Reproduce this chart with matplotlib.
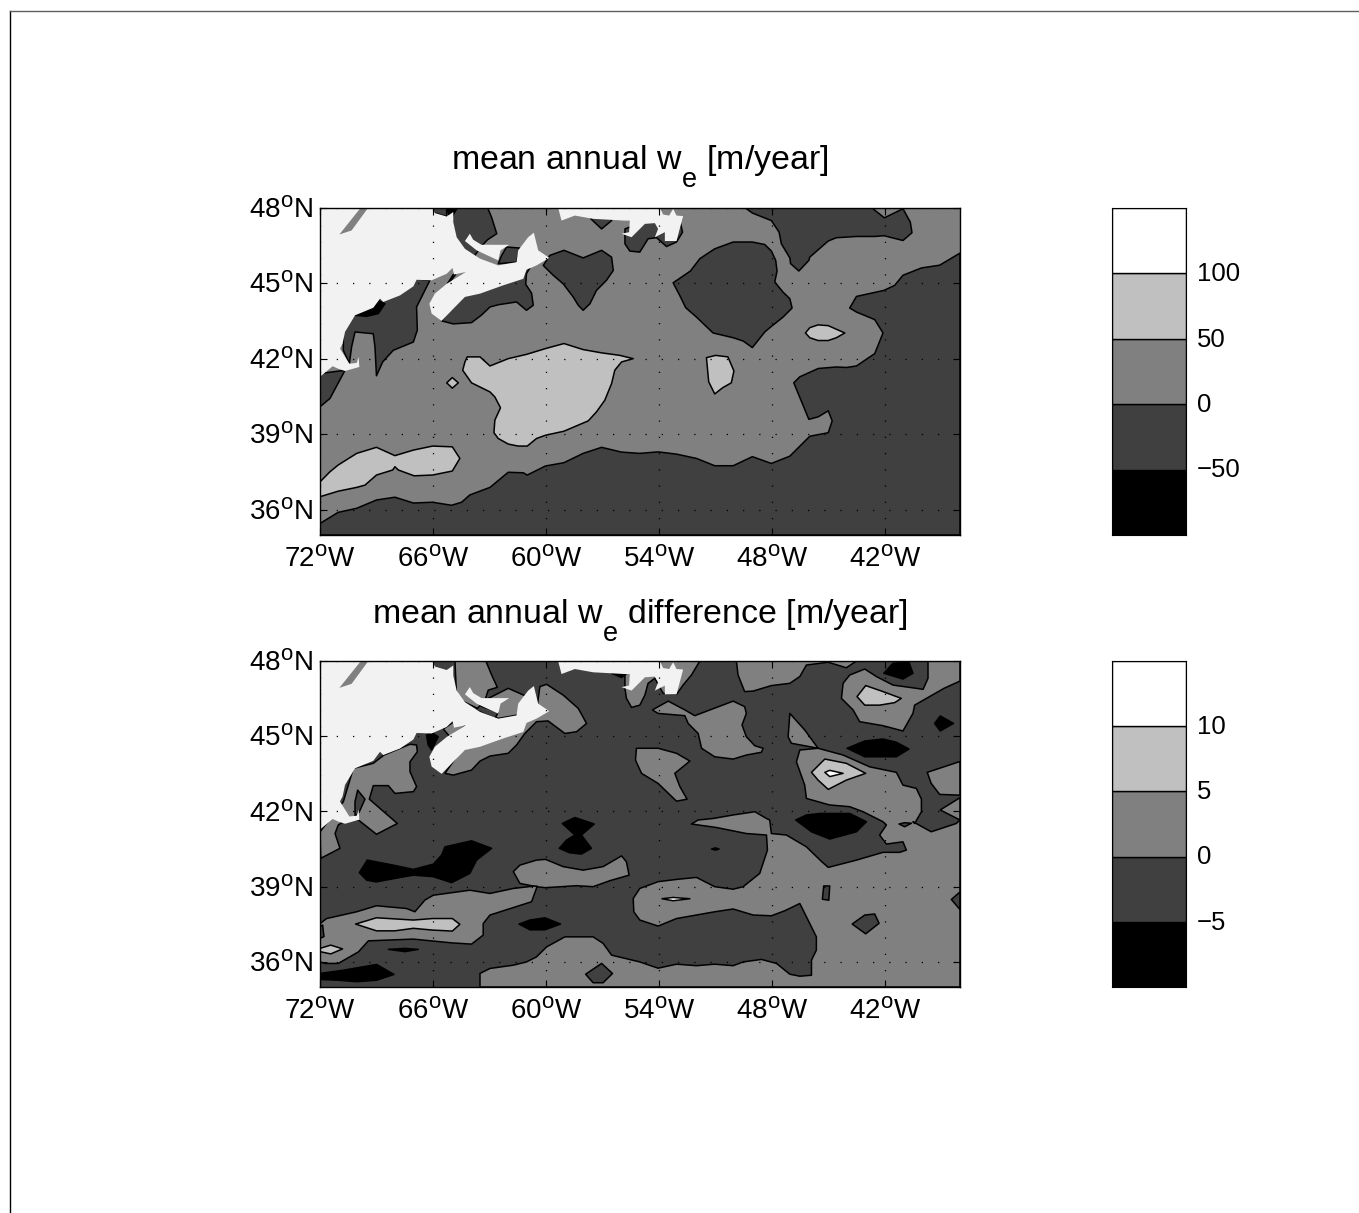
import matplotlib
matplotlib.use("Agg")
import matplotlib.pyplot as plt
from matplotlib.lines import Line2D
from matplotlib.transforms import ScaledTranslation
import matplotlib._mathtext as _mt

plt.rcParams['font.family'] = ['Liberation Sans', 'DejaVu Sans']
plt.rcParams['mathtext.fontset'] = 'custom'
plt.rcParams['mathtext.rm'] = 'Liberation Sans'
plt.rcParams['mathtext.it'] = 'Liberation Sans'
plt.rcParams['mathtext.default'] = 'rm'
_mt.SHRINK_FACTOR = 0.8
_mt.FontConstantsBase.sub1 = 1.0
_mt.FontConstantsBase.sub2 = 1.0

# ---- shared geography (lon, lat) ----
land_main = [(-72,48),(-66.02,48),(-65.9,47.78),(-65.27,47.64),(-64.92,47.82),(-64.92,47.42),(-64.74,46.82),(-64.3,46.36),
 (-63.5,45.97),(-62.53,45.7),(-61.56,45.83),(-61.47,46.3),(-60.94,46.82),(-60.64,47.0),(-60.41,46.3),(-59.82,46.0),(-60.5,45.7),
 (-61.03,45.53),(-61.2,45.17),(-62.27,44.91),(-63.5,44.58),(-64.3,44.45),(-64.92,43.98),(-65.54,43.5),(-66.07,43.79),(-66.19,44.18),
 (-65.9,44.58),(-65.27,44.97),(-64.25,45.44),(-64.88,45.34),(-64.96,45.6),(-65.27,45.37),(-66.07,45.11),(-66.87,45.13),(-67.04,44.87),
 (-67.75,44.51),(-68.64,44.25),(-68.81,44.38),(-69.17,44.02),(-70.14,43.72),(-70.67,43.06),(-70.8,42.6),(-70.94,42.4),(-70.44,41.8),
 (-70.05,41.83),(-69.95,42.07),(-69.91,41.67),(-70.67,41.51),(-71.03,41.6),(-71.33,41.7),(-72,41.28)]
land_pei = [(-64.04,46.96),(-63.86,46.72),(-63.42,46.52),(-61.95,46.52),(-62.41,46.3),(-62.53,45.9),(-63.68,46.3),(-64.3,46.67)]
land_nfld = [(-59.35,48),(-59.17,47.48),(-58.46,47.68),(-57.49,47.55),(-55.8,47.48),(-55.54,47.48),(-55.58,47.02),(-55.98,46.96),
 (-55.45,46.82),(-54.74,47.35),(-54.21,47.38),(-54.04,47.15),(-54.21,46.82),(-53.68,47.02),(-53.68,46.67),(-53.06,46.67),(-52.71,47.66),
 (-53.06,47.68),(-53.24,47.95),(-53.45,47.68),(-53.77,47.72),(-53.95,48)]
gray_sliver = [(-69.88,47.95),(-69.43,48),(-70.32,47.09),(-70.97,46.93)]

# ---- top panel contour regions ----
t_dark_south = [(-72,35.46),(-71.03,35.9),(-70.05,36.06),(-69,36.39),(-68.02,36.5),(-67.04,36.27),(-66.02,36.3),(-65.01,36.18),(-64.48,36.3),
 (-64.04,36.59),(-62.97,36.89),(-62,37.49),(-61.2,37.47),(-60.99,37.38),(-60.02,37.74),(-59.04,37.87),(-58.02,38.24),(-57.04,38.48),
 (-55.98,38.29),(-55.01,38.24),(-54.04,38.3),(-53.06,38.21),(-52,38.04),(-51.03,37.75),(-50.05,37.75),(-49.03,38.11),(-48.02,37.84),
 (-47.04,38.13),(-45.98,38.92),(-45,39.06),(-44.79,39.53),(-45,39.93),(-45.53,39.69),(-46.03,39.59),(-46.83,41.04),(-46.51,41.28),
 (-45.53,41.61),(-44.57,41.67),(-44.04,41.65),(-43.5,41.71),(-42.53,42.2),(-42.09,43.02),(-42.53,43.55),(-43.5,43.85),(-43.86,44.01),
 (-43.5,44.47),(-42.04,44.71),(-41.47,44.91),(-41.03,45.31),(-40.05,45.6),(-39.08,45.71),(-38,46.19),(-38,35),(-72,35)]
t_dark_ne = [(-49.44,48),(-49.03,47.78),(-48.02,47.48),(-47.61,47.02),(-47.49,46.56),(-47.04,46.0),(-47,45.77),(-46.56,45.48),(-46.03,45.9),
 (-45.98,46.03),(-45,46.67),(-44.57,46.8),(-43.5,46.85),(-42.53,46.85),(-42.04,46.88),(-41.03,46.69),(-40.55,47.0),(-40.64,47.42),
 (-41.03,47.95),(-42.02,47.59),(-42.62,47.95),(-42.62,48)]
t_dark_blob = [(-53.24,45.01),(-52.32,45.48),(-51.82,45.97),(-51.03,46.36),(-50.05,46.63),(-49.03,46.63),(-48.37,46.53),(-48.02,46.27),
 (-47.79,45.9),(-47.72,45.48),(-47.84,45.04),(-47.4,44.64),(-47.04,44.38),(-46.92,44.01),(-47.4,43.65),(-48.02,43.28),(-48.37,43.06),
 (-49.03,42.44),(-49.52,42.7),(-50.05,42.83),(-51.12,43.02),(-52,43.65),(-52.57,44.02),(-52.89,44.51)]
t_dark_capecod = [(-66.16,45.11),(-66.87,44.05),(-66.83,43.13),(-67.04,42.66),(-68.11,42.33),(-68.67,41.87),(-69,41.32),(-69.08,42.47),
 (-69.17,42.99),(-70.14,43.06),(-70.32,42.47),(-70.44,41.8),(-70.76,42.33),(-70.76,42.99),(-70.23,43.79),(-69,44.31),(-66.87,45.17)]
t_dark_li = [(-72,41.41),(-70.67,41.54),(-71.47,40.42),(-72,40.09)]
t_dark_gulf = [(-64.74,48),(-63.1,48),(-62.88,47.6),(-62.61,46.96),(-63.1,46.72),(-63.42,46.47),(-63.8,46.07),(-64.74,46.5),(-65.09,47.45)]
t_dark_nb = [(-66.19,48),(-65.27,48),(-65.27,47.64),(-65.9,47.78)]
t_dark_strait = [(-62.09,46.43),(-61.38,46.39),(-61.56,45.83),(-62.53,45.77),(-62.35,46.1)]
t_dark_fundy = [(-65.23,44.97),(-64.92,45.34),(-64.8,45.34),(-65.09,45.05)]
t_dark_shelf = [(-65.54,43.5),(-64.92,43.38),(-63.95,43.43),(-63.42,43.73),(-62.97,44.05),(-62.53,44.14),(-61.56,44.25),(-61.03,43.92),
 (-60.67,44.12),(-60.76,44.6),(-61.07,44.95),(-61.03,45.38),(-60.85,45.6),(-62.3,45.4),(-64.57,44.5)]
t_dark_ns_east = [(-59.79,46.1),(-59.04,46.3),(-58.02,46.0),(-57.04,46.3),(-56.51,46.03),(-56.42,45.5),(-56.78,45.11),(-57.31,44.71),
 (-57.66,44.18),(-58.02,43.92),(-58.28,44.12),(-58.55,44.45),(-59.08,44.97),(-59.61,45.31),(-60.14,45.7)]
t_dark_nfld = [(-55.8,46.82),(-55.8,46.56),(-55.54,46.27),(-55.01,46.23),(-54.57,46.76),(-54.12,46.8),(-53.59,46.45),(-53.06,46.63),
 (-52.74,47.02),(-52.88,47.48),(-54.65,47.48),(-55.8,47.15)]
t_dark_pocket = [(-57.61,47.55),(-57.04,47.15),(-56.51,47.48),(-56.51,47.7),(-57.61,47.7)]
t_light_main = [(-64.18,42.07),(-63.5,42.07),(-62.97,41.71),(-62,42.0),(-61.03,42.17),(-60.02,42.4),(-59.04,42.6),(-58.02,42.36),
 (-57.04,42.23),(-56.07,42.13),(-55.36,42.0),(-55.98,41.87),(-56.34,41.54),(-56.51,41.01),(-56.87,40.35),(-57.31,39.89),(-57.75,39.53),
 (-59.04,39.12),(-60.02,38.96),(-60.5,38.83),(-60.99,38.53),(-61.47,38.53),(-62,38.61),(-62.53,38.83),(-62.76,39.06),(-62.71,39.56),
 (-62.41,40.05),(-62.71,40.48),(-62.97,40.68),(-63.95,41.04),(-64.42,41.54),(-64.3,41.87)]
t_light_sw = [(-72,37.11),(-71.47,37.51),(-71.03,37.78),(-70.05,38.24),(-69,38.48),(-68.02,38.15),(-67.04,38.37),(-66.02,38.53),(-64.97,38.5),
 (-64.57,38.04),(-64.97,37.54),(-66.02,37.38),(-67,37.35),(-67.84,37.58),(-68.02,37.71),(-68.14,37.58),(-69,37.38),(-69.61,36.98),
 (-70.05,36.89),(-71.03,36.74),(-72,36.52)]
t_light_diamond = [(-65.27,41.04),(-64.97,41.25),(-64.65,41.04),(-64.97,40.83)]
t_light_east = [(-46.21,43.02),(-45.98,43.23),(-45.54,43.34),(-45,43.31),(-44.12,43.02),(-44.57,42.83),(-45,42.72),(-45.54,42.72),(-45.98,42.83)]
t_light_mid = [(-51.47,42.04),(-50.98,42.13),(-50.33,42.07),(-50.01,41.51),(-50.15,41.04),(-50.6,40.85),(-51.03,40.6),(-51.35,41.08)]
t_dark_tick = [(-60.1,41.08),(-60.0,41.12),(-59.97,40.64),(-60.03,40.64)]
t_black_coast = [(-70.14,43.72),(-69.52,43.92),(-68.9,44.31),(-68.55,44.18),(-68.9,43.79),(-69.52,43.68)]
t_black_top = [(-65.27,48),(-64.69,48),(-64.88,47.78),(-65.18,47.72)]

# ---- bottom panel contour regions ----
b_gray_coast = [(-70.23,43.72),(-69.17,43.92),(-68.6,44.25),(-67.22,44.68),(-66.87,44.65),(-66.83,44.38),(-67.22,43.98),(-67.22,43.59),
 (-66.87,42.99),(-67.04,42.79),(-68.02,42.72),(-68.37,43.03),(-69.17,43.03),(-69.38,42.49),(-67.89,41.52),(-69,41.09),(-69.96,41.66),
 (-70.76,41.59),(-71.03,41.46),(-71.2,41.12),(-70.94,40.53),(-71.96,40.13),(-72,41.19),(-70.76,42.39)]
b_dark_wedge = [(-70,42.85),(-69.61,42.49),(-69.91,41.99),(-70.14,41.79),(-70.14,42.39)]
b_gray_shelf = [(-65.36,43.52),(-64.92,43.45),(-63.95,43.65),(-63.5,44.01),(-62.97,44.21),(-62,44.32),(-61.56,44.65),(-61.12,45.11),(-60.5,45.58),
 (-59.88,45.61),(-58.99,45.11),(-58.37,45.18),(-57.84,45.51),(-58.28,46.11),(-59.08,46.64),(-59.96,47.07),(-60.32,46.98),(-60.5,45.98),(-64.57,44.38)]
b_gray_gulf = [(-64.83,48),(-63.19,48),(-62.88,47.44),(-62.58,46.95),(-63.06,46.84),(-63.24,46.44),(-62,46.91),(-61.12,46.62),(-60.5,45.98),
 (-62.53,45.71),(-64.74,46.51)]
b_dark_strip = [(-63.5,46.22),(-62.53,45.95),(-62.71,45.71),(-63.73,46.05)]
b_gray_fundy = [(-65.45,45.29),(-64.74,45.65),(-64.25,45.42),(-65.1,44.98)]
b_black_fundy = [(-66.34,45.05),(-66.07,45.15),(-65.72,44.98),(-66.07,44.45),(-66.25,44.65)]
b_gray_nfld = [(-55.8,46.91),(-55.72,46.51),(-55.45,46.15),(-55.01,46.24),(-54.74,46.64),(-54.57,47.11),(-54.21,47.31),(-53.77,46.71),(-53.06,46.67),
 (-52.71,47.04),(-52.27,47.44),(-51.82,48),(-54.48,48),(-55.8,47.57)]
b_black_nfld = [(-56.51,47.51),(-55.98,47.34),(-55.63,47.55),(-55.98,47.7),(-56.51,47.7)]
b_gray_top = [(-49.88,48),(-49.79,47.44),(-49.44,46.78),(-48.99,46.8),(-48.02,47.02),(-47.04,47.11),(-46.51,47.38),(-46.16,47.84),(-45,47.95),(-44.04,47.73),(-43.5,48)]
b_gray_center = [(-54.34,46.05),(-53.5,46.4),(-52.62,46.05),(-52.09,45.82),(-50.05,46.4),(-49.44,46.18),(-49.35,45.91),(-49.58,45.45),(-49.35,44.98),
 (-48.9,44.62),(-48.46,44.52),(-48.55,44.36),(-49.35,44.25),(-50.05,44.09),(-51.03,44.18),(-51.73,44.52),(-51.91,45.11),(-52.44,45.51),(-52.62,45.82),(-54.04,45.91)]
b_gray_left = [(-55.19,44.52),(-54.04,44.52),(-53.06,44.32),(-52.35,44.01),(-53.15,43.52),(-52.88,42.99),(-52.5,42.49),(-53.06,42.41),(-54.04,43.12),(-54.92,43.52),(-55.24,44.05)]
b_gray_big = [(-63.5,35),(-63.5,35.54),(-62.97,35.74),(-61.73,35.87),(-61.03,36.0),(-60.5,36.2),(-59.96,36.6),(-58.99,37.0),(-57.49,37.0),(-56.96,36.74),
 (-56.51,36.27),(-55.01,36.0),(-54.04,35.75),(-53.06,35.91),(-52,35.85),(-51.03,35.91),(-50.05,35.85),(-49.52,36.0),(-48.55,36.1),(-47.75,35.94),
 (-47.04,35.51),(-46.51,35.43),(-45.89,35.47),(-45.89,36.07),(-45.63,36.47),(-45.63,37.0),(-46.51,38.33),(-47.31,38.04),(-48.02,37.84),(-48.99,37.87),
 (-50.05,38.11),(-51.03,38.0),(-53.06,37.73),(-54.04,37.43),(-55.01,37.67),(-55.33,38.0),(-55.36,38.53),(-55.01,38.93),(-54.04,39.2),(-53.06,39.29),
 (-52,39.37),(-51.03,39.0),(-50.05,38.9),(-49.52,39.0),(-48.64,39.53),(-48.23,40.46),(-48.28,41.06),(-49.35,41.12),(-50.94,41.36),(-52.27,41.5),
 (-51.91,41.66),(-51.12,41.72),(-50.05,41.86),(-48.9,41.99),(-48.28,41.72),(-48.11,41.66),(-48.02,41.12),(-47.22,41.06),(-46.16,40.59),(-45.35,40.0),
 (-45,39.77),(-43.5,40.06),(-42.09,40.37),(-41.2,40.37),(-40.85,40.46),(-41.03,40.79),(-41.91,40.7),(-42.27,41.06),(-41.91,41.46),(-42.09,41.59),
 (-43.15,41.99),(-43.86,42.19),(-44.93,42.26),(-46.16,42.52),(-46.25,43.05),(-46.69,43.98),(-46.51,44.45),(-45.54,44.52),(-46.96,44.72),(-47.13,44.98),
 (-47.04,45.91),(-46.25,45.25),(-45.54,44.52),(-44.21,44.25),(-42.8,43.78),(-41.38,43.56),(-41.03,43.05),(-40.32,42.92),(-40.05,42.49),(-40.05,41.99),
 (-40.41,41.52),(-40.5,41.59),(-39.53,41.19),(-38.2,41.52),(-38,41.66),(-38,35)]
b_gray_ne = [(-43.06,47.68),(-42.44,47.38),(-41.56,47.04),(-40.32,46.91),(-39.96,46.87),(-39.7,47.31),(-39.7,48),(-38,48),(-38,47.2),(-38.85,46.91),
 (-40.41,46.24),(-40.5,45.91),(-41.03,45.21),(-42.09,45.42),(-43.33,45.58),(-43.68,46.05),(-44.3,46.51),(-44.21,47.11),(-43.86,47.44)]
b_gray_right = [(-39.74,43.56),(-38.05,43.98),(-38,43.98),(-38,42.65),(-39.08,42.68),(-39.53,43.12)]
b_gray_tri = [(-38,42.55),(-39.05,42.06),(-38,41.66)]
b_gray_tongue = [(-61.73,39.6),(-61.38,39.86),(-60.5,40.06),(-60.02,40.09),(-59.08,39.8),(-58.02,39.66),(-56.96,39.8),(-55.98,40.23),(-55.72,39.99),
 (-55.58,39.46),(-56.6,39.24),(-57.49,39.0),(-58.37,39.04),(-60.02,38.96),(-60.5,39.0),(-61.38,39.13)]
b_gray_sw = [(-72,37.53),(-71.65,37.73),(-70.05,38.0),(-69,38.24),(-67.4,38.13),(-66.96,38.0),(-66.42,38.47),(-65.98,38.66),(-64.04,38.86),(-62.97,38.73),
 (-61.73,38.93),(-60.67,39.02),(-60.46,39.02),(-60.76,38.4),(-62.97,37.87),(-63.33,37.53),(-63.33,37.07),(-63.95,36.71),(-65.01,36.76),(-67.04,36.91),
 (-68.46,36.87),(-69.43,36.84),(-69.96,36.4),(-71.03,35.94),(-71.73,35.94),(-72,36.0)]
b_dark_hole = [(-72,36.94),(-71.79,37.01),(-71.86,37.47),(-72,37.4)]
b_dark_bits = [
 [(-41.24,41.5),(-40.94,41.55),(-40.58,41.53),(-40.94,41.39)],
 [(-45.31,38.5),(-45.24,39.03),(-44.92,39.03),(-44.97,38.46)],
 [(-43.73,37.51),(-43.06,37.87),(-42.53,37.91),(-42.3,37.54),(-43.01,37.12)],
 [(-38.46,38.49),(-38,38.79),(-38,38.09)],
 [(-57.89,35.51),(-57.04,35.94),(-56.46,35.54),(-56.96,35.17),(-57.49,35.17)]]
b_light_ne = [(-43.47,46.58),(-43.01,47.02),(-42.09,46.78),(-41.12,46.51),(-41.47,46.34),(-42.27,46.24),(-43.06,46.24)]
b_light_mid = [(-45.89,43.56),(-45.18,44.09),(-44.04,43.92),(-43.01,43.52),(-44.04,43.25),(-45,42.88),(-45.54,43.25)]
b_white_mid = [(-45.18,43.56),(-44.92,43.64),(-44.21,43.52),(-44.92,43.39)]
b_white_sliver = [(-53.83,38.52),(-53.24,38.57),(-52.35,38.52),(-53.24,38.44)]
b_light_sw = [(-70.11,37.51),(-69,37.76),(-67.04,37.67),(-66.02,37.73),(-64.97,37.73),(-64.57,37.5),(-64.97,37.23),(-66.02,37.27),(-67.04,37.34),(-68.02,37.24),(-69,37.24)]
b_light_corner = [(-72,36.54),(-71.43,36.67),(-70.8,36.52),(-71.43,36.32),(-72,36.41)]
b_blacks = [
 [(-42.05,47.51),(-41.56,47.91),(-40.71,47.95),(-40.5,47.51),(-41.03,47.28)],
 [(-44,44.52),(-43.06,44.81),(-42.09,44.89),(-41.38,44.76),(-40.71,44.49),(-41.38,44.18),(-43.06,44.18)],
 [(-39.35,45.51),(-39.05,45.81),(-38.34,45.51),(-39.05,45.21)],
 [(-46.73,41.66),(-46.16,41.86),(-45.45,41.92),(-43.86,41.92),(-42.97,41.59),(-43.5,41.19),(-44.92,40.9),(-45.89,41.19)],
 [(-51.2,40.5),(-51,40.55),(-50.8,40.5),(-51,40.46)],
 [(-69.91,39.56),(-69.49,40.06),(-68.11,39.86),(-67.04,39.69),(-65.98,39.9),(-65.54,40.26),(-65.36,40.59),(-63.95,40.83),(-62.88,40.53),(-63.68,40.06),
  (-64.04,39.53),(-65.01,39.16),(-65.98,39.4),(-67.04,39.46),(-68.02,39.33),(-69,39.19),(-69.52,39.26)],
 [(-59.13,41.52),(-58.46,41.76),(-57.43,41.5),(-58.11,41.06),(-57.58,40.53),(-58.11,40.3),(-58.73,40.35),(-59.29,40.53),(-58.9,40.86),(-58.46,41.06)],
 [(-61.43,37.51),(-60.85,37.67),(-60.05,37.76),(-59.22,37.51),(-60.05,37.28),(-60.85,37.28)],
 [(-68.37,36.5),(-67.49,36.54),(-66.78,36.5),(-67.49,36.41)],
 [(-72,35.54),(-70.76,35.67),(-68.99,35.9),(-68.07,35.5),(-68.99,35.27),(-70.05,35.21),(-71.03,35.27),(-72,35.3)]]

# ---- axes values ----
lon_ticks = [-72, -66, -60, -54, -48, -42]
lat_ticks = [36, 39, 42, 45, 48]
lon_labels = ['72$^{o}$W', '66$^{o}$W', '60$^{o}$W', '54$^{o}$W', '48$^{o}$W', '42$^{o}$W']
lat_labels = ['36$^{o}$N', '39$^{o}$N', '42$^{o}$N', '45$^{o}$N', '48$^{o}$N']
top_bounds = [-100, -50, 0, 50, 100, 150]
bot_bounds = [-10, -5, 0, 5, 10, 15]
top_bar_ticks = [-50, 0, 50, 100]
bot_bar_ticks = [-5, 0, 5, 10]
title_top = 'mean annual w$_{e}$ [m/year]'
title_bot = 'mean annual w$_{e}$ difference [m/year]'

BLACK, DARK, GRAY, LIGHT, WHITE, LAND = '#000000', '#404040', '#808080', '#c0c0c0', '#ffffff', '#f2f2f2'
FS = 18.5
FS_MAP = 20
FS_TITLE = 24.4
W, H = 1359.0, 1213.0

fig = plt.figure(figsize=(W/100, H/100), dpi=100, facecolor='white')

def axbox(x0, y0, x1, y1):
    return fig.add_axes([x0/W, 1-y1/H, (x1-x0)/W, (y1-y0)/H])

def poly(ax, pts, color, edge=True):
    xs = [p[0] for p in pts]
    ys = [p[1] for p in pts]
    ax.fill(xs, ys, facecolor=color, edgecolor='black' if edge else 'none',
            linewidth=1.1 if edge else 0, joinstyle='round', clip_on=True)

def finish_map(ax, title):
    poly(ax, land_main, LAND, False)
    poly(ax, land_pei, LAND, False)
    poly(ax, land_nfld, LAND, False)
    poly(ax, gray_sliver, GRAY, False)
    ax.set_xlim(-72, -38)
    ax.set_ylim(35, 48)
    ax.set_xticks(lon_ticks, lon_labels, fontsize=FS_MAP)
    ax.set_yticks(lat_ticks, lat_labels, fontsize=FS_MAP)
    ax.tick_params(direction='in', length=5, width=0.8, top=True, right=True)
    ax.tick_params(axis='x', pad=8)
    ax.tick_params(axis='y', pad=5)
    ax.grid(True, color='black', linestyle=(0, (1, 12)), linewidth=0.9)
    ax.set_axisbelow(False)
    for s in ax.spines.values():
        s.set_linewidth(1.0)
    ax.set_title(title, fontsize=FS_TITLE, pad=27.5, x=0.5)

def colorbar(ax, bounds, ticks):
    colors = [BLACK, DARK, GRAY, LIGHT, WHITE]
    for lo, hi, c in zip(bounds[:-1], bounds[1:], colors):
        ax.axhspan(lo, hi, facecolor=c, edgecolor='black', linewidth=1.0)
    ax.set_ylim(bounds[0], bounds[-1])
    ax.set_xlim(0, 1)
    ax.set_xticks([])
    ax.yaxis.tick_right()
    ax.set_yticks(ticks, [str(t).replace('-', '\u2212') for t in ticks], fontsize=FS)
    ax.tick_params(length=0, pad=8)
    shift = ScaledTranslation(0, 1.2/72, fig.dpi_scale_trans)
    for lab in ax.get_yticklabels():
        lab.set_transform(lab.get_transform() + shift)

# top map
ax1 = axbox(320, 207.5, 960, 535)
ax1.set_facecolor(GRAY)
for p in [t_dark_south, t_dark_ne, t_dark_blob, t_dark_capecod, t_dark_li, t_dark_gulf, t_dark_nb, t_dark_strait,
          t_dark_fundy, t_dark_shelf, t_dark_ns_east, t_dark_nfld, t_dark_pocket, t_dark_tick]:
    poly(ax1, p, DARK)
for p in [t_light_main, t_light_sw, t_light_diamond, t_light_east, t_light_mid]:
    poly(ax1, p, LIGHT)
for p in [t_black_coast, t_black_top]:
    poly(ax1, p, BLACK)
finish_map(ax1, title_top)

# bottom map
ax2 = axbox(320, 661, 960, 987)
ax2.set_facecolor(DARK)
for p in [b_gray_coast, b_gray_shelf, b_gray_gulf, b_gray_fundy, b_gray_nfld, b_gray_top, b_gray_center, b_gray_left,
          b_gray_big, b_gray_ne, b_gray_right, b_gray_tri, b_gray_tongue, b_gray_sw]:
    poly(ax2, p, GRAY)
for p in [b_dark_wedge, b_dark_strip, b_dark_hole] + b_dark_bits:
    poly(ax2, p, DARK)
for p in [b_light_ne, b_light_mid, b_light_sw, b_light_corner]:
    poly(ax2, p, LIGHT)
for p in [b_white_mid, b_white_sliver]:
    poly(ax2, p, WHITE)
for p in b_blacks + [b_black_fundy, b_black_nfld]:
    poly(ax2, p, BLACK)
finish_map(ax2, title_bot)

# colour bars
colorbar(axbox(1112, 208, 1186, 535), top_bounds, top_bar_ticks)
colorbar(axbox(1112, 661, 1186, 987), bot_bounds, bot_bar_ticks)

# page frame
fig.add_artist(Line2D([9.5/W, 9.5/W], [0, 1-10.5/H], color='black', linewidth=1.0, transform=fig.transFigure))
fig.add_artist(Line2D([9.5/W, 1], [1-10.5/H, 1-10.5/H], color='#606060', linewidth=1.0, transform=fig.transFigure))

fig.savefig('out.png', dpi=100)
